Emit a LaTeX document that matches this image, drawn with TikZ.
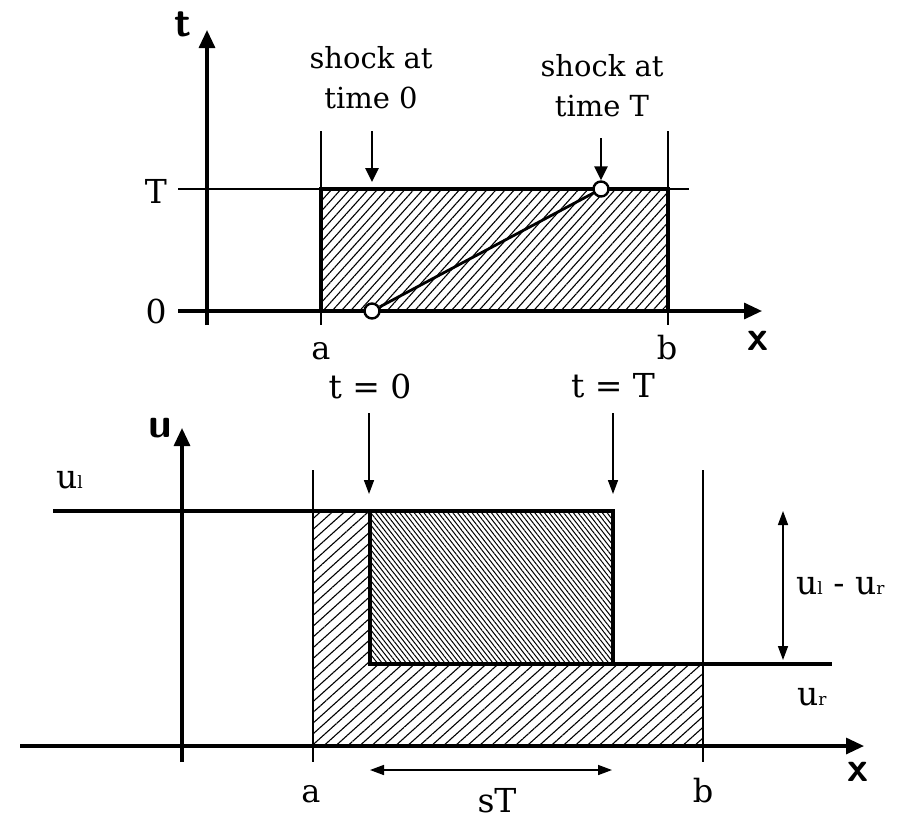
\documentclass[tikz,border=0pt]{standalone}
\usepackage{fontspec}
\setmainfont{DejaVu Serif}
\usetikzlibrary{arrows.meta,patterns.meta}
\newcommand\subsm[1]{{\fontsize{17}{17}\selectfont #1}}
\begin{document}
\begin{tikzpicture}[x=1pt,y=-1pt,
  axis/.style={line width=3.2pt,-{Triangle[length=18pt,width=16pt]}},
  thickl/.style={line width=3.2pt},
  thinl/.style={line width=1.5pt},
  bigarrow/.style={line width=2.8pt,-{Triangle[length=14pt,width=13pt]}},
  smallarrow/.style={line width=1.6pt,-{Triangle[length=14pt,width=10pt]}},
  dblarrow/.style={line width=1.6pt,{Triangle[length=14pt,width=10pt]}-{Triangle[length=14pt,width=10pt]}},
  lbl/.style={font=\fontsize{29}{40}\selectfont, inner sep=0pt},
  ablbl/.style={font=\fontsize{32}{36}\selectfont, inner sep=0pt},
  big/.style={font=\fontsize{33}{40}\selectfont, inner sep=0pt},
  axlbl/.style={font=\fontsize{42}{46}\selectfont\sffamily\bfseries, inner sep=0pt},
  openpt/.style={circle, draw, fill=white, line width=2.4pt, minimum size=15pt, inner sep=0pt},
  hatchA/.style={pattern={Lines[angle=48,distance=6.8pt,line width=1.1pt]}},
  hatchB/.style={pattern={Lines[angle=42,distance=8pt,line width=1.1pt]}},
  hatchC/.style={pattern={Lines[angle=-52,distance=3.8pt,line width=1pt]}}
  ]
\useasboundingbox (0,0) rectangle (909,822);

% ---------- top diagram ----------
\fill[hatchA] (321,189) rectangle (668,311);
\coordinate (tTl) at (178,189); \coordinate (tTr) at (689,189);
\draw[thinl] (tTl) -- (tTr);
\coordinate (ta1) at (321,131); \coordinate (ta2) at (321,325);
\coordinate (tb1) at (668,131); \coordinate (tb2) at (668,325);
\draw[thinl] (ta1) -- (ta2);
\draw[thinl] (tb1) -- (tb2);
\draw[thickl] (321,311) |- (668,189) -- (668,311);
\coordinate (tx0) at (178,311); \coordinate (tx1) at (762,311);
\draw[axis] (tx0) -- (tx1);
\coordinate (ty0) at (207,325); \coordinate (ty1) at (207,30);
\draw[axis] (ty0) -- (ty1);

\node[openpt] (s0) at (372,311) {};
\node[openpt] (sT) at (601,189) {};
\draw[line width=2.8pt] (s0) -- (sT);

\node[lbl, align=center] (lab0) at (371,78) {shock at\\time 0};
\node[lbl, align=center] (labT) at (602,86) {shock at\\time T};
\coordinate (ar0a) at (372,131); \coordinate (ar0b) at (372,182);
\draw[bigarrow] (ar0a) -- (ar0b);
\coordinate (arTa) at (601,138);
\draw[bigarrow] (arTa) -- (sT.north);

\node[axlbl] (tlab) at (183,24) {t};
\node[axlbl] (xlab) at (758,341) {x};
\node[big] (Tlab) at (156,191) {T};
\node[big] (Zlab) at (156,311) {0};
\node[ablbl] (alab) at (321,351) {a};
\node[ablbl] (blab) at (667,348) {b};

% ---------- bottom diagram ----------
\fill[hatchB] (313,511) -- (370,511) -- (370,664) -- (703,664) -- (703,746) -- (313,746) -- cycle;
\fill[hatchC] (370,511) rectangle (613,664);
\coordinate (ba1) at (313,470); \coordinate (ba2) at (313,762);
\coordinate (bb1) at (703,470); \coordinate (bb2) at (703,762);
\draw[thinl] (ba1) -- (ba2);
\draw[thinl] (bb1) -- (bb2);
\coordinate (ul0) at (53,511); \coordinate (ul1) at (370,511);
\draw[thickl] (ul0) -- (ul1);
\draw[thickl] (370,511) rectangle (613,664);
\coordinate (ur0) at (370,664); \coordinate (ur1) at (832,664);
\draw[thickl] (ur0) -- (ur1);
\coordinate (bx0) at (20,746); \coordinate (bx1) at (864,746);
\draw[axis] (bx0) -- (bx1);
\coordinate (by0) at (182,762); \coordinate (by1) at (182,428);
\draw[axis] (by0) -- (by1);

\node[big] (t0lab) at (370,386) {t = 0};
\node[big] (tTlab) at (613,386) {t = T};
\coordinate (bt0a) at (369,413); \coordinate (bt0b) at (369,494);
\coordinate (btTa) at (613,413); \coordinate (btTb) at (613,494);
\draw[smallarrow] (bt0a) -- (bt0b);
\draw[smallarrow] (btTa) -- (btTb);

\coordinate (du0) at (783,511); \coordinate (du1) at (783,660);
\draw[dblarrow] (du0) -- (du1);
\coordinate (st0) at (370,770); \coordinate (st1) at (612,770);
\draw[dblarrow] (st0) -- (st1);

\node[big, anchor=base west] (ullab) at (56,488) {u\subsm{l}};
\node[big, anchor=base west] (difflab) at (796,594) {u\subsm{l} - u\subsm{r}};
\node[big, anchor=base west] (urlab) at (797,705) {u\subsm{r}};
\node[axlbl] (ulab) at (160,428) {u};
\node[axlbl] (bxlab) at (858,772) {x};
\node[ablbl] (balab) at (311,794) {a};
\node[ablbl] (bblab) at (703,791) {b};
\node[big, anchor=base] (sTlab) at (497,812) {sT};
\end{tikzpicture}
\end{document}
